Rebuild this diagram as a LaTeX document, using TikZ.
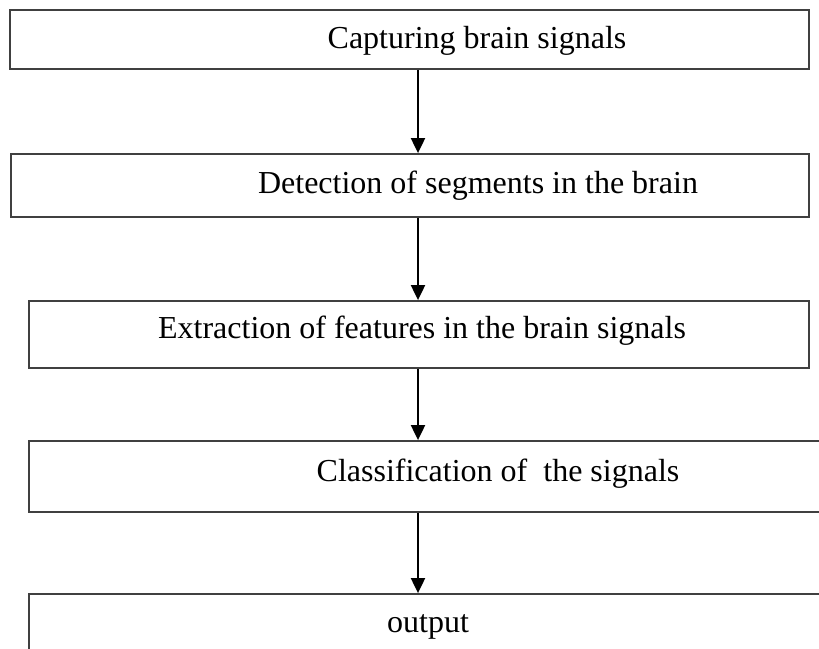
\documentclass[tikz,border=0pt]{standalone}
\usepackage{fontspec}
\setmainfont{Liberation Serif}
\usetikzlibrary{arrows.meta}
\begin{document}
\begin{tikzpicture}[x=1pt,y=-1pt,
  box/.style={draw=black!75, line width=1.8pt, inner sep=0pt, fill=white},
  lbl/.style={anchor=base, inner sep=0pt, font=\fontsize{32}{38}\selectfont},
  arr/.style={line width=2pt, -{Triangle[length=15pt,width=14pt]}}]
\useasboundingbox (0,0) rectangle (819,648);
\clip (0,0) rectangle (819,648);
\fill[white] (0,0) rectangle (819,648);
\node[box, minimum width=799pt, minimum height=59pt] (b1) at (409.5,39.5) {};
\node[box, minimum width=798pt, minimum height=63pt] (b2) at (410,185.5) {};
\node[box, minimum width=780pt, minimum height=67pt] (b3) at (419,334.5) {};
\node[box, minimum width=811pt, minimum height=71pt] (b4) at (434.5,476.5) {};
\node[box, minimum width=811pt, minimum height=86pt] (b5) at (434.5,637) {};
\node[lbl] (t1) at (477,48) {Capturing brain signals};
\node[lbl] (t2) at (478,193) {Detection of segments in the brain};
\node[lbl] (t3) at (422,338) {Extraction of features in the brain signals};
\node[lbl] (t4) at (498,481) {Classification of\ \ the signals};
\node[lbl] (t5) at (428,632) {output};
\coordinate (ax) at (418,0);
\draw[arr] (b1.south -| ax) -- (b2.north -| ax);
\draw[arr] (b2.south -| ax) -- (b3.north -| ax);
\draw[arr] (b3.south -| ax) -- (b4.north -| ax);
\draw[arr] (b4.south -| ax) -- (b5.north -| ax);
\end{tikzpicture}
\end{document}
